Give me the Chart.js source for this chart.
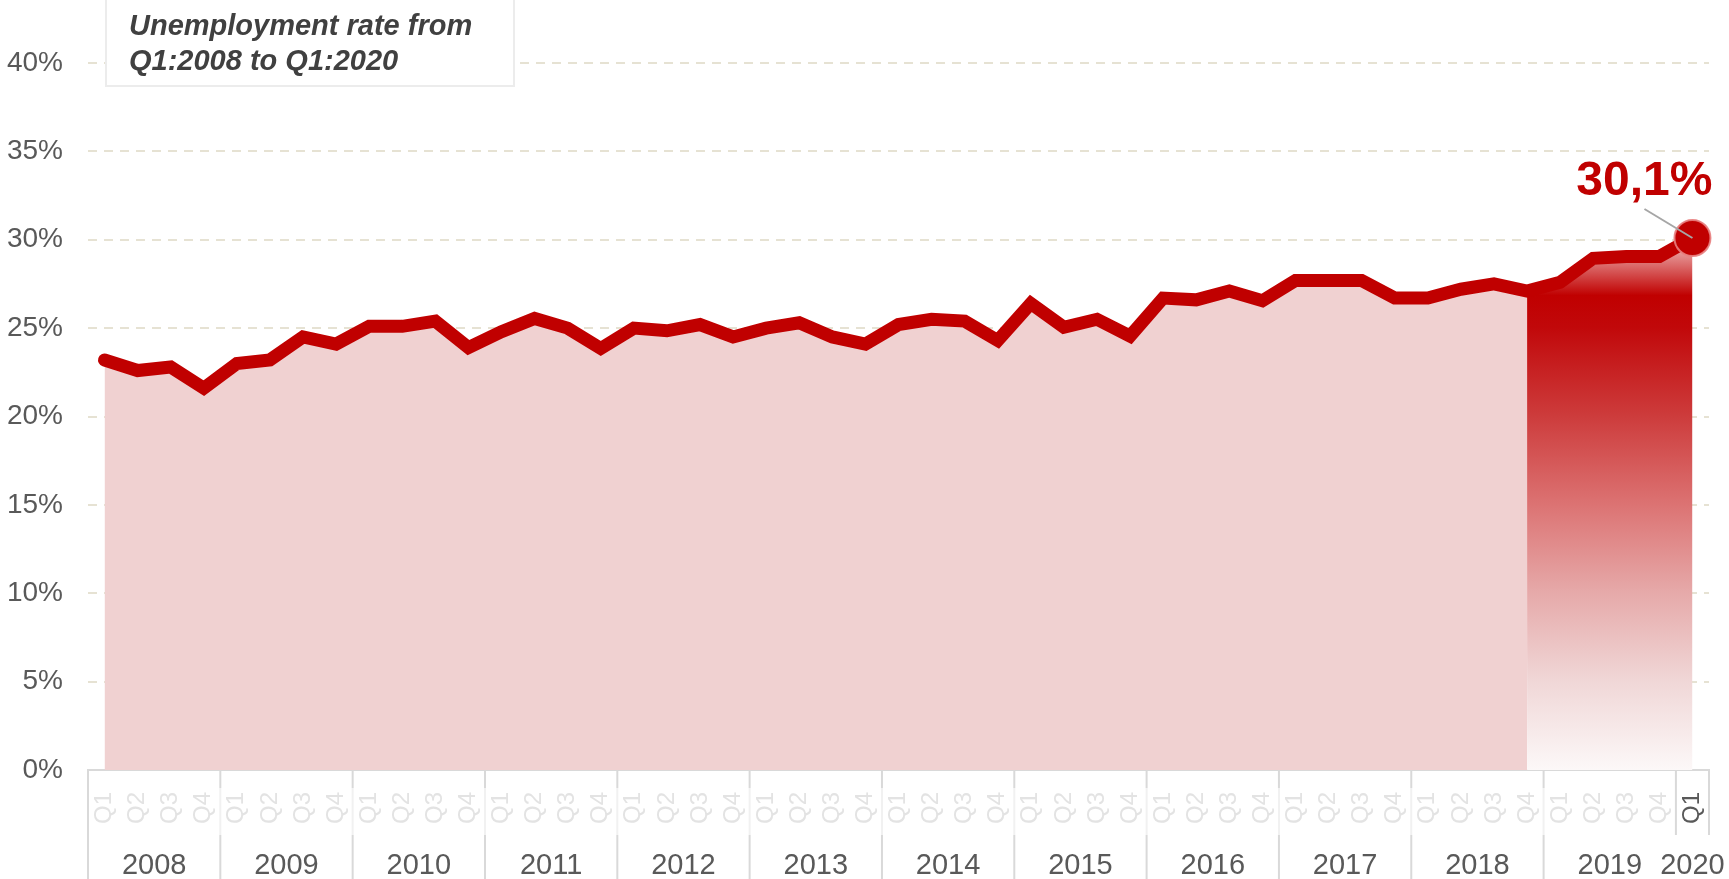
<!DOCTYPE html>
<html>
<head>
<meta charset="utf-8">
<script src="https://cdn.jsdelivr.net/npm/chart.js@4.4.1/dist/chart.umd.min.js"></script>
<style>
html, body { margin: 0; padding: 0; background: #fff; overflow: hidden; }
canvas { display: block; }
</style>
</head>
<body>
<canvas id="unemployment" width="1729" height="879"></canvas>
<script>
// quarterly unemployment rate, Q1:2008 .. Q1:2020
const years = ['2008', '2009', '2010', '2011', '2012', '2013', '2014', '2015', '2016', '2017', '2018', '2019', '2020'];
const quarters = ['Q1', 'Q2', 'Q3', 'Q4'];
const rates = [
    23.2, 22.6, 22.8, 21.6,   // 2008
    23.0, 23.2, 24.5, 24.1,   // 2009
    25.1, 25.1, 25.4, 23.9,   // 2010
    24.8, 25.55, 25.0, 23.85, // 2011
    25.0, 24.85, 25.2, 24.5,  // 2012
    25.0, 25.3, 24.5, 24.1,   // 2013
    25.2, 25.5, 25.4, 24.3,   // 2014
    26.4, 25.05, 25.5, 24.55, // 2015
    26.7, 26.6, 27.1, 26.55,  // 2016
    27.7, 27.7, 27.7, 26.7,   // 2017
    26.7, 27.2, 27.5, 27.1,   // 2018
    27.6, 28.95, 29.05, 29.05,// 2019
    30.1                      // 2020
];
const yTicks = [0, 5, 10, 15, 20, 25, 30, 35, 40];
const titleLines = ['Unemployment rate from', 'Q1:2008 to Q1:2020'];
const highlightFrom = 43; // Q4:2018, start of the shaded last year

const red = '#c00000';
const last = rates.length - 1;
const labels = rates.map((v, i) => quarters[i % 4]);
const lastLabel = rates[last].toFixed(1).replace('.', ',') + '%';
const FONT = '"Liberation Sans", Arial, sans-serif';

Chart.defaults.font.family = FONT;

function recentFill(c) {
    const chart = c.chart;
    if (!chart.chartArea) return 'rgba(0,0,0,0)';
    const y = chart.scales.y;
    const top = y.getPixelForValue(30), bottom = y.getPixelForValue(0);
    const g = chart.ctx.createLinearGradient(0, top, 0, bottom);
    g.addColorStop(0, 'rgb(236,170,170)');
    g.addColorStop(0.025, 'rgb(230,150,150)');
    g.addColorStop(0.105, 'rgb(192,0,0)');
    g.addColorStop(0.165, 'rgb(193,8,10)');
    g.addColorStop(0.333, 'rgb(205,60,60)');
    g.addColorStop(0.5, 'rgb(220,115,115)');
    g.addColorStop(0.667, 'rgb(230,170,170)');
    g.addColorStop(0.833, 'rgb(240,215,215)');
    g.addColorStop(1, 'rgb(252,248,248)');
    return g;
}

const decor = {
    id: 'decor',
    afterDatasetsDraw(chart) {
        const ctx = chart.ctx;
        const p = chart.getDatasetMeta(0).data[last];
        ctx.save();
        ctx.strokeStyle = '#a6a6a6';
        ctx.lineWidth = 2;
        ctx.beginPath();
        ctx.moveTo(p.x - 48, p.y - 29);
        ctx.lineTo(p.x, p.y);
        ctx.stroke();
        ctx.fillStyle = red;
        ctx.font = 'bold 48px ' + FONT;
        ctx.textAlign = 'right';
        ctx.textBaseline = 'alphabetic';
        ctx.fillText(lastLabel, p.x + 20, p.y - 43);
        ctx.restore();
    },
    afterDraw(chart) {
        const ctx = chart.ctx;
        const x = chart.scales.x;
        const area = chart.chartArea;
        const H = chart.height;
        const half = (x.getPixelForValue(1) - x.getPixelForValue(0)) / 2;
        ctx.save();
        // year separators + year labels
        ctx.lineWidth = 2;
        for (let j = 0; j < years.length; j++) {
            const first = j * 4;
            const end = Math.min(first + 3, last);
            const left = x.getPixelForValue(first) - half;
            const right = x.getPixelForValue(end) + half;
            const lastYear = j === years.length - 1;
            if (j === 0) {
                ctx.strokeStyle = '#d9d9d9';
                ctx.beginPath(); ctx.moveTo(left, area.bottom); ctx.lineTo(left, H); ctx.stroke();
            } else {
                ctx.strokeStyle = '#d9d9d9';
                ctx.beginPath(); ctx.moveTo(left, area.bottom); ctx.lineTo(left, area.bottom + 18); ctx.stroke();
                ctx.strokeStyle = lastYear ? '#d9d9d9' : '#f1f1f1';
                ctx.beginPath(); ctx.moveTo(left, area.bottom + 18); ctx.lineTo(left, area.bottom + 65); ctx.stroke();
                if (!lastYear) {
                    ctx.strokeStyle = '#d9d9d9';
                    ctx.beginPath(); ctx.moveTo(left, area.bottom + 65); ctx.lineTo(left, H); ctx.stroke();
                }
            }
            if (lastYear) {
                ctx.strokeStyle = '#d9d9d9';
                ctx.beginPath(); ctx.moveTo(right, area.bottom); ctx.lineTo(right, area.bottom + 65); ctx.stroke();
            }
            ctx.fillStyle = '#595959';
            ctx.font = '29px ' + FONT;
            ctx.textAlign = 'center';
            ctx.textBaseline = 'middle';
            ctx.fillText(years[j], (left + right) / 2, 866);
        }
        // title box
        ctx.fillStyle = '#ffffff';
        ctx.strokeStyle = '#ececec';
        ctx.lineWidth = 2;
        ctx.fillRect(106, -4, 408, 90);
        ctx.strokeRect(106, -4, 408, 90);
        ctx.fillStyle = '#404040';
        ctx.font = 'italic bold 29px ' + FONT;
        ctx.textAlign = 'left';
        ctx.textBaseline = 'alphabetic';
        ctx.fillText(titleLines[0], 129, 35);
        ctx.fillText(titleLines[1], 129, 70);
        ctx.restore();
    }
};

new Chart(document.getElementById('unemployment'), {
    type: 'line',
    data: {
        labels: labels,
        datasets: [{
            data: rates,
            borderColor: red,
            borderWidth: 13,
            borderCapStyle: 'round',
            borderJoinStyle: 'miter',
            tension: 0,
            fill: false,
            pointRadius: rates.map((v, i) => i === last ? 18 : 0),
            pointBackgroundColor: red,
            pointBorderColor: 'rgba(232,128,128,0.9)',
            pointBorderWidth: 2,
            order: 0
        }, {
            data: rates.map((v, i) => i <= highlightFrom ? v : null),
            fill: 'origin',
            backgroundColor: '#f0d1d1',
            borderColor: 'rgba(0,0,0,0)',
            borderWidth: 0,
            pointRadius: 0,
            order: 2
        }, {
            data: rates.map((v, i) => i >= highlightFrom ? v : null),
            fill: 'origin',
            backgroundColor: recentFill,
            borderColor: 'rgba(0,0,0,0)',
            borderWidth: 0,
            pointRadius: 0,
            order: 1
        }]
    },
    options: {
        responsive: false,
        animation: false,
        events: [],
        layout: { padding: { top: 63, right: 18, left: 0, bottom: 0 } },
        plugins: { legend: { display: false }, tooltip: { enabled: false } },
        scales: {
            x: {
                offset: true,
                grid: { display: false, drawTicks: false },
                border: { display: true, color: '#d9d9d9', width: 2 },
                ticks: {
                    autoSkip: false,
                    minRotation: 90,
                    maxRotation: 90,
                    padding: 22,
                    font: { size: 24 },
                    color: c => c.index === last ? '#595959' : '#e3e3e3'
                },
                afterFit: s => { s.height = 109; s.paddingLeft = 0; s.paddingRight = 0; }
            },
            y: {
                min: yTicks[0],
                max: yTicks[yTicks.length - 1],
                afterBuildTicks: s => { s.ticks = yTicks.map(v => ({ value: v })); },
                grid: {
                    drawTicks: false,
                    color: c => c.tick.value === 0 ? 'rgba(0,0,0,0)' : '#e6e2d3',
                    lineWidth: 2
                },
                border: { display: false, dash: [9, 7] },
                ticks: {
                    padding: 25,
                    font: { size: 28 },
                    color: '#595959',
                    callback: v => v + '%'
                },
                afterFit: s => { s.width = 88; s.paddingTop = 0; s.paddingBottom = 0; }
            }
        }
    },
    plugins: [decor]
});
</script>
</body>
</html>
